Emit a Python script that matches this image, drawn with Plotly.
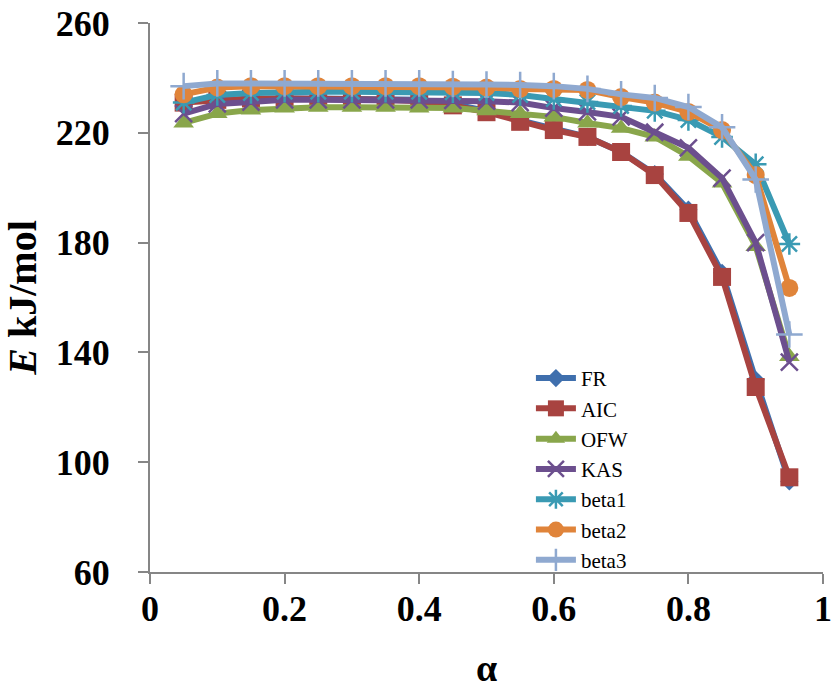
import plotly.graph_objects as go

alpha = [0.05, 0.10, 0.15, 0.20, 0.25, 0.30, 0.35, 0.40, 0.45, 0.50,
         0.55, 0.60, 0.65, 0.70, 0.75, 0.80, 0.85, 0.90, 0.95]

FR    = [231.5, 232, 232.5, 232.5, 232.5, 232.5, 232.5, 232, 230.5, 228,
         224.5, 221.5, 218.5, 213, 205, 192, 169, 130, 93]
AIC   = [231, 232, 232.5, 232.5, 232.5, 232.5, 232, 231.5, 230, 227.5,
         224, 221, 218.5, 213, 204.6, 190.8, 167.5, 127.4, 94.5]
OFW   = [223.6, 227, 228.3, 229, 229.3, 229.3, 229.3, 229, 229, 228,
         227, 225.8, 223.6, 221.7, 218.5, 211.5, 201.7, 178.6, 138.5]
KAS   = [227, 230.5, 231.2, 232, 232, 232, 232, 232, 231.8, 231.5,
         231, 229, 227.6, 225.8, 220.2, 214.5, 203.5, 180, 136.5]
beta1 = [231, 233.8, 234.5, 235, 235, 235, 235, 235, 234.8, 234.5,
         233.8, 232.3, 231.2, 229.8, 228, 224.7, 218.5, 208.5, 179.5]
beta2 = [234, 236.5, 237, 237, 237, 237, 237, 237, 236.8, 236.5,
         236, 236, 235.6, 233, 231, 227.6, 221, 204.6, 163.5]
beta3 = [237, 238, 238, 238, 238, 238, 238, 238, 237.8, 237.6,
         237.4, 237, 236, 234, 232.7, 229.4, 222, 203, 146.5]

x_ticks = [0, 0.2, 0.4, 0.6, 0.8, 1]
x_tick_labels = ["0", "0.2", "0.4", "0.6", "0.8", "1"]
y_ticks = [60, 100, 140, 180, 220, 260]
y_tick_labels = ["60", "100", "140", "180", "220", "260"]

series = [
    ("FR", FR, "#3F6FAD", "diamond", 14, False),
    ("AIC", AIC, "#A84340", "square", 18, False),
    ("OFW", OFW, "#89A64B", "triangle-up", 18, False),
    ("KAS", KAS, "#6C4F8E", "x-thin-open", 17, True),
    ("beta1", beta1, "#3A9AB3", "asterisk-open", 18, True),
    ("beta2", beta2, "#E0843A", "circle", 18, False),
    ("beta3", beta3, "#8FA9D0", "cross-thin-open", 19, True),
]

FONT = "Liberation Serif"

fig = go.Figure()
for name, vals, color, sym, size, thin in series:
    marker = dict(symbol=sym, size=size, color=color)
    if thin:
        marker["line"] = dict(color=color, width=2.5)
    else:
        marker["line"] = dict(width=0)
    fig.add_trace(go.Scatter(
        x=alpha, y=vals, name=name, mode="lines+markers",
        line=dict(color=color, width=6),
        marker=marker,
    ))

fig.update_layout(
    width=835, height=690,
    margin=dict(l=150, r=12, t=23, b=118, autoexpand=False),
    paper_bgcolor="white", plot_bgcolor="white",
    font=dict(family=FONT, color="black"),
    showlegend=True,
    legend=dict(
        x=0.566, y=0.39, xanchor="left", yanchor="top",
        font=dict(family=FONT, size=21, color="black"),
        bgcolor="rgba(0,0,0,0)", tracegroupgap=0, itemwidth=40,
    ),
    xaxis=dict(
        range=[0, 1], tickvals=x_ticks, automargin=False,
        ticktext=["<b>%s</b>" % t for t in x_tick_labels],
        showgrid=False, zeroline=False,
        showline=True, linecolor="#868686", linewidth=2,
        ticks="outside", ticklen=10, tickwidth=1.5, tickcolor="#868686",
        tickfont=dict(family=FONT, size=36, color="black"),
        title=dict(text="<b>α</b>", font=dict(family=FONT, size=38, color="black"), standoff=26),
    ),
    yaxis=dict(
        range=[60, 260], tickvals=y_ticks, automargin=False,
        ticktext=["<b>%s</b>" % t for t in y_tick_labels],
        showgrid=False, zeroline=False,
        showline=True, linecolor="#868686", linewidth=2,
        ticks="outside", ticklen=10, tickwidth=1.5, tickcolor="#868686",
        tickfont=dict(family=FONT, size=36, color="black"),
        ticklabelstandoff=21,
        title=dict(text="<b><i>E</i> kJ/mol</b>", font=dict(family=FONT, size=40, color="black"), standoff=12),
    ),
)

try:
    fig.update_xaxes(ticklabelstandoff=-6)
except ValueError:
    fig.update_xaxes(ticklabelstandoff=0, title_standoff=18)

fig.write_html("out.html")
